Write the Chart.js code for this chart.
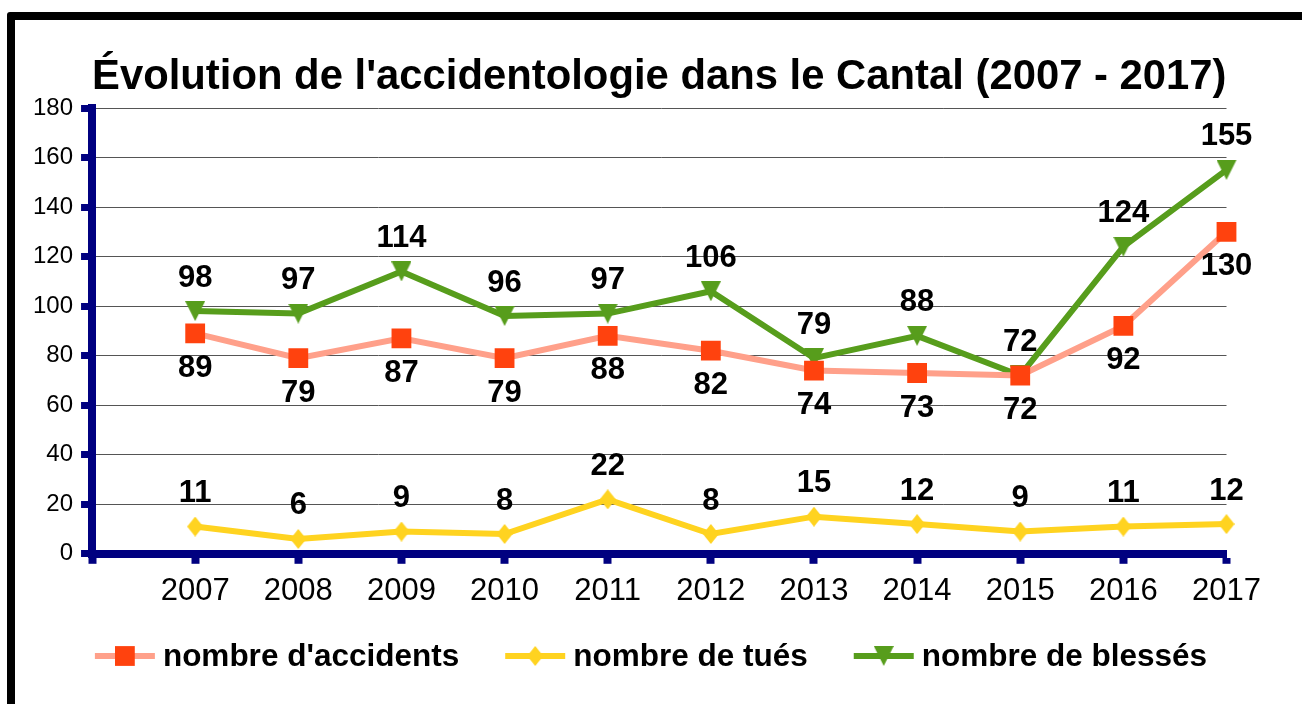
<!DOCTYPE html>
<html lang="fr">
<head>
<meta charset="utf-8">
<title>Évolution de l'accidentologie dans le Cantal (2007 - 2017)</title>
<script src="https://cdn.jsdelivr.net/npm/chart.js@4.4.1/dist/chart.umd.min.js"></script>
<style>
  html, body { margin: 0; padding: 0; background: #fff; overflow: hidden; }
  /* black frame, cropped on the right and at the bottom like the source */
  #frame {
    position: absolute; left: 7px; top: 12px;
    width: 2000px; height: 2000px;
    border: 8px solid #000; border-radius: 3px; box-sizing: border-box;
  }
  #wrap { position: absolute; left: 0; top: 0; width: 1302px; height: 704px; }
</style>
</head>
<body>
<div id="frame"></div>
<div id="wrap"><canvas id="chart"></canvas></div>
<script>
/* ── DATA ─────────────────────────────────────────────── */
const years     = ['2007', '2008', '2009', '2010', '2011', '2012', '2013', '2014', '2015', '2016', '2017'];
const accidents = [89, 79, 87, 79, 88, 82, 74, 73, 72, 92, 130];
const tues      = [11, 6, 9, 8, 22, 8, 15, 12, 9, 11, 12];
const blesses   = [98, 97, 114, 96, 97, 106, 79, 88, 72, 124, 155];
const seriesNames = ["nombre d'accidents", 'nombre de tués', 'nombre de blessés'];
const yMin = 0, yMax = 180, yStep = 20;

const FONT = '"Liberation Sans", Arial, sans-serif';
const NAVY = '#000080';

// first category is left empty: 2007 sits one step right of the value axis
const labels = [''].concat(years);
const withGap = arr => [null].concat(arr);

// small marker images (diamond is taller than wide, triangle points down)
function markerCanvas(w, h, color, draw) {
    const c = document.createElement('canvas');
    c.width = w; c.height = h;
    const g = c.getContext('2d');
    g.fillStyle = color;
    g.beginPath();
    draw(g, w, h);
    g.closePath();
    g.fill();
    return c;
}
const diamond = markerCanvas(16, 20, '#ffd320', (g, w, h) => {
    g.moveTo(w / 2, 0); g.lineTo(w, h / 2); g.lineTo(w / 2, h); g.lineTo(0, h / 2);
});
const triangleDown = markerCanvas(20, 20, '#579d1c', (g, w, h) => {
    g.moveTo(0, 0); g.lineTo(w, 0); g.lineTo(w / 2, h);
});

/* ── VALUE LABELS (above / below each point) ──────────── */
const valueLabels = {
    id: 'valueLabels',
    afterDatasetsDraw(chart) {
        const ctx = chart.ctx;
        ctx.save();
        ctx.font = 'bold 31px ' + FONT;
        ctx.fillStyle = '#000';
        ctx.textAlign = 'center';
        ctx.textBaseline = 'middle';
        chart.data.datasets.forEach((ds, i) => {
            const meta = chart.getDatasetMeta(i);
            meta.data.forEach((pt, j) => {
                const v = ds.data[j];
                if (v === null) return;
                const dy = ds.labelBelow ? 35 : -33;
                ctx.fillText(String(v), pt.x, pt.y + dy);
            });
        });
        ctx.restore();
    }
};

/* ── LEGEND: line sample + marker + bold text ─────────── */
const lineLegend = {
    id: 'lineLegend',
    afterDraw(chart) {
        const ctx = chart.ctx;
        const sample = 60, gap = 8, spacing = 46, y = 656;
        ctx.save();
        ctx.font = 'bold 31.5px ' + FONT;
        const widths = chart.data.datasets.map(ds => ctx.measureText(ds.label).width);
        const total = widths.reduce((a, w) => a + sample + gap + w, 0) + spacing * (widths.length - 1);
        let x = (chart.width - total) / 2;
        chart.data.datasets.forEach((ds, i) => {
            ctx.strokeStyle = ds.borderColor;
            ctx.lineWidth = ds.borderWidth;
            ctx.beginPath();
            ctx.moveTo(x, y);
            ctx.lineTo(x + sample, y);
            ctx.stroke();
            ctx.fillStyle = ds.pointBackgroundColor;
            Chart.helpers.drawPoint(ctx, {
                pointStyle: ds.pointStyle,
                rotation: 0,
                radius: ds.pointRadius,
                borderWidth: 0
            }, x + sample / 2, y);
            ctx.fillStyle = '#000';
            ctx.textAlign = 'left';
            ctx.textBaseline = 'middle';
            ctx.fillText(ds.label, x + sample + gap, y + 1);
            x += sample + gap + widths[i] + spacing;
        });
        ctx.restore();
    }
};

new Chart(document.getElementById('chart'), {
    type: 'line',
    data: {
        labels: labels,
        datasets: [
            {
                label: seriesNames[0],
                data: withGap(accidents),
                borderColor: '#ffa08a',
                borderWidth: 6,
                pointStyle: 'rect',
                pointRadius: 14,
                pointBackgroundColor: '#ff420e',
                pointBorderWidth: 0,
                labelBelow: true,
            },
            {
                label: seriesNames[1],
                data: withGap(tues),
                borderColor: '#ffd320',
                borderWidth: 6,
                pointStyle: diamond,
                pointRadius: 10,
                pointBackgroundColor: '#ffd320',
                pointBorderWidth: 0,
            },
            {
                label: seriesNames[2],
                data: withGap(blesses),
                borderColor: '#579d1c',
                borderWidth: 6,
                pointStyle: triangleDown,
                pointRadius: 10,
                pointBackgroundColor: '#579d1c',
                pointBorderWidth: 0,
            },
        ]
    },
    options: {
        responsive: true,
        maintainAspectRatio: false,
        animation: false,
        layout: { padding: { left: 25, right: 75.5, top: 0, bottom: 85 } },
        elements: { line: { tension: 0 } },
        plugins: {
            legend: { display: false },
            tooltip: { enabled: false },
            title: {
                display: true,
                text: "Évolution de l'accidentologie dans le Cantal (2007 - 2017)",
                color: '#000',
                fullSize: false,
                font: { family: FONT, size: 42.5, weight: 'bold' },
                padding: { top: 52, bottom: 5 }
            }
        },
        scales: {
            x: {
                offset: false,
                grid: { drawOnChartArea: false, tickLength: 10, tickWidth: 8, tickColor: NAVY },
                border: { color: NAVY, width: 8 },
                ticks: { color: '#000', font: { family: FONT, size: 31 }, padding: 9, maxRotation: 0, autoSkip: false }
            },
            y: {
                min: yMin,
                max: yMax,
                grid: { color: '#555', lineWidth: 1, tickLength: 11, tickWidth: 7, tickColor: NAVY },
                border: { color: NAVY, width: 8 },
                ticks: { stepSize: yStep, color: '#000', font: { family: FONT, size: 24 }, padding: 8 }
            }
        }
    },
    plugins: [valueLabels, lineLegend]
});
</script>
</body>
</html>
